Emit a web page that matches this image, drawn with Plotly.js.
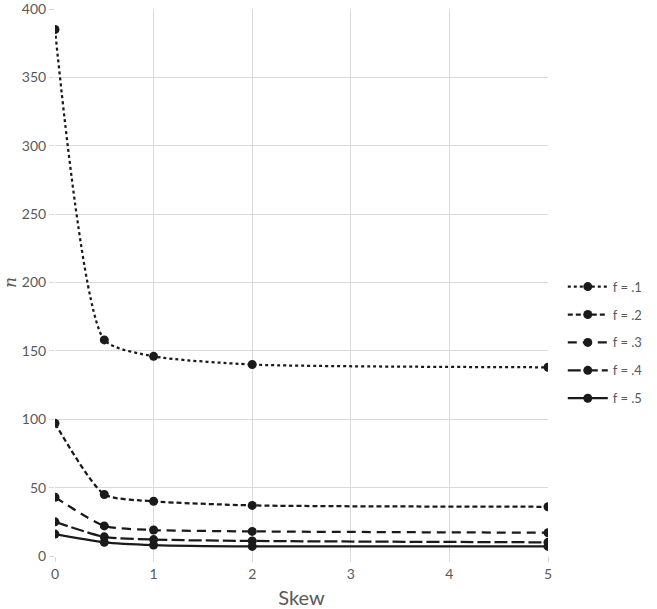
<!DOCTYPE html>
<html>
<head>
<meta charset="utf-8">
<script src="https://cdn.plot.ly/plotly-3.0.1.min.js"></script>
<style>
  body { margin: 0; background: #fff; }
  #plotArea { width: 657px; height: 609px; }
</style>
</head>
<body>
<div id="plotArea"></div>
<script>
// skew values on the x axis
var skew = [0, 0.5, 1, 2, 5];

// n for each f
var f1 = [385, 158, 146, 140, 138];
var f2 = [97, 45, 40, 37, 36];
var f3 = [43, 22, 19, 18, 17];
var f4 = [25, 14, 12, 11, 10];
var f5 = [16, 10, 8, 7, 7];

var names = ["f = .1", "f = .2", "f = .3", "f = .4", "f = .5"];
var series = [f1, f2, f3, f4, f5];
var dashes = ["dot", "5px,3px", "9px,6px", "13px,4px", "solid"];

var data = [];
for (var i = 0; i < series.length; i++) {
  data.push({
    x: skew,
    y: series[i],
    name: names[i],
    legendgroup: "g" + i,
    mode: "lines+markers",
    line: { color: "#1a1a1a", width: 2.25, dash: dashes[i], shape: "spline", smoothing: 0.6 },
    marker: { color: "#1a1a1a", size: 9, symbol: "circle" }
  });
}

var layout = {
  width: 657,
  height: 609,
  font: { family: "Lato, 'Open Sans', sans-serif", color: "#595959", size: 14 },
  paper_bgcolor: "#fff",
  plot_bgcolor: "#fff",
  margin: { l: 55, r: 101, t: 9, b: 53 },
  showlegend: true,
  legend: {
    x: 1.03, y: 0.39, xanchor: "left", yanchor: "middle",
    font: { size: 13, color: "#595959" },
    tracegroupgap: 8,
    itemwidth: 40
  },
  xaxis: {
    range: [0, 5],
    tickvals: [0, 1, 2, 3, 4, 5],
    showgrid: true,
    gridcolor: "#d9d9d9",
    zeroline: false,
    showline: false,
    ticks: "outside",
    ticklen: 5,
    tickcolor: "#d9d9d9",
    title: { text: "Skew", font: { size: 20, color: "#595959" }, standoff: 10 }
  },
  yaxis: {
    range: [0, 400],
    dtick: 50,
    showgrid: true,
    gridcolor: "#d9d9d9",
    zeroline: false,
    showline: false,
    ticks: "outside",
    ticklen: 5,
    tickcolor: "#d9d9d9",
    ticklabeloverflow: "allow",
    title: { text: "<i>n</i>", font: { family: "'DejaVu Serif', serif", size: 17, color: "#595959" }, standoff: 8 }
  }
};

Plotly.newPlot("plotArea", data, layout, { displayModeBar: false });
</script>
</body>
</html>
